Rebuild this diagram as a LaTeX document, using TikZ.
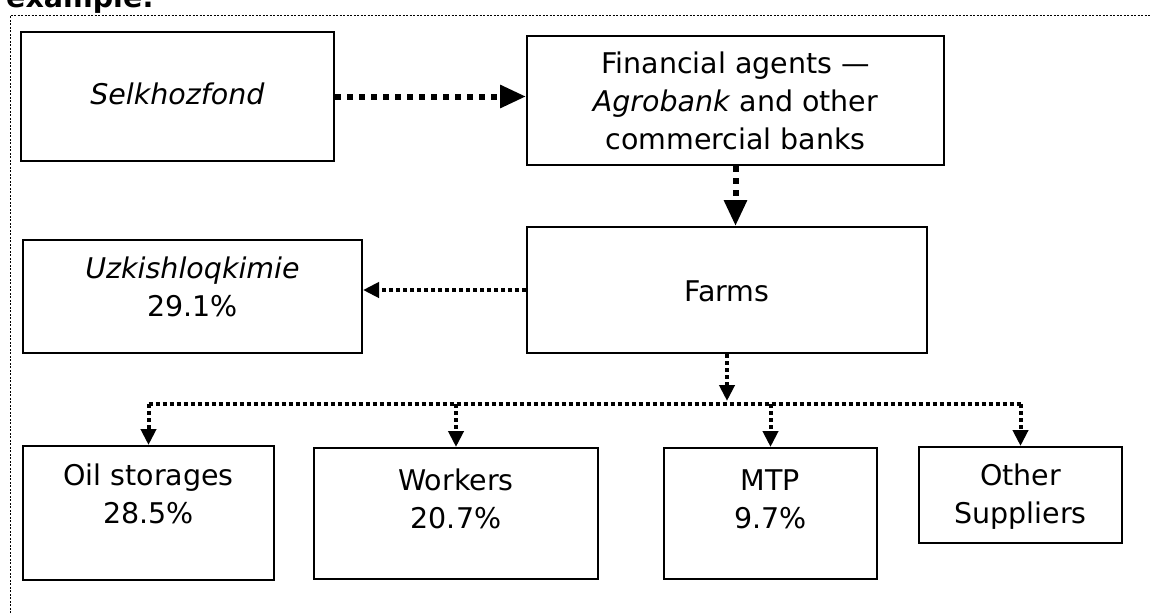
\documentclass[tikz,border=0pt]{standalone}
\usepackage{fontspec}
\setmainfont{DejaVu Sans}
\usetikzlibrary{arrows.meta, positioning}
\tikzset{box/.style={rectangle,draw,line width=2pt,align=center,inner sep=0pt,anchor=north west},line/.style={-{Triangle[length=16pt,width=15pt]},line width=4pt,dash pattern=on 4pt off 3pt},bigline/.style={-{Triangle[length=26pt,width=22pt]},line width=6pt,dash pattern=on 6pt off 6pt}}

\begin{document}
\begin{tikzpicture}[x=1pt,y=-1pt,font=\fontsize{28.5}{38}\selectfont]
\useasboundingbox (0,0) rectangle (1150,613);
\clip (0,0) rectangle (1150,613);
\node[anchor=base west,inner sep=0pt,font=\fontsize{28.5}{38}\selectfont\bfseries] (title) at (6,8) {example:};
\draw[line width=1pt,dash pattern=on 2pt off 1.5pt] (10,613) -- (10,15) -- (1150,15);
\node[box,minimum width=313pt,text height=72pt,text depth=57pt] (fond) at (20,31) {\textit{Selkhozfond}};
\node[box,minimum width=417pt,text height=113pt,text depth=16pt] (bank) at (526,35) {Financial agents —\\\textit{Agrobank} and other\\commercial banks};
\node[box,minimum width=400pt,text height=74pt,text depth=52pt] (farm) at (526,226) {Farms};
\node[box,minimum width=339pt,text height=76pt,text depth=37pt] (uzk) at (22,239) {\textit{Uzkishloqkimie}\\29.1\%};
\node[box,minimum width=251pt,text height=77pt,text depth=57pt] (oil) at (22,445) {Oil storages\\28.5\%};
\node[box,minimum width=284pt,text height=80pt,text depth=51pt] (work) at (313,447) {Workers\\20.7\%};
\node[box,minimum width=213pt,text height=80pt,text depth=51pt] (mtp) at (663,447) {MTP\\9.7\%};
\node[box,minimum width=203pt,text height=76pt,text depth=20pt] (oth) at (918,446) {Other\\Suppliers};
\coordinate[below=50pt of farm] (hub);
\draw[bigline] (fond.east) -- (fond.east -| bank.west);
\draw[bigline] (bank.south) -- (bank.south |- farm.north);
\draw[line] (farm.west) -- (farm.west -| uzk.east);
\draw[line,shorten >=3pt] (farm) -- (hub);
\draw[line,-] (hub -| oil) -- (hub -| oth);
\foreach \n in {oil,work,mtp,oth}
  \draw[line] (hub -| \n) -- (\n);
\end{tikzpicture}
\end{document}
